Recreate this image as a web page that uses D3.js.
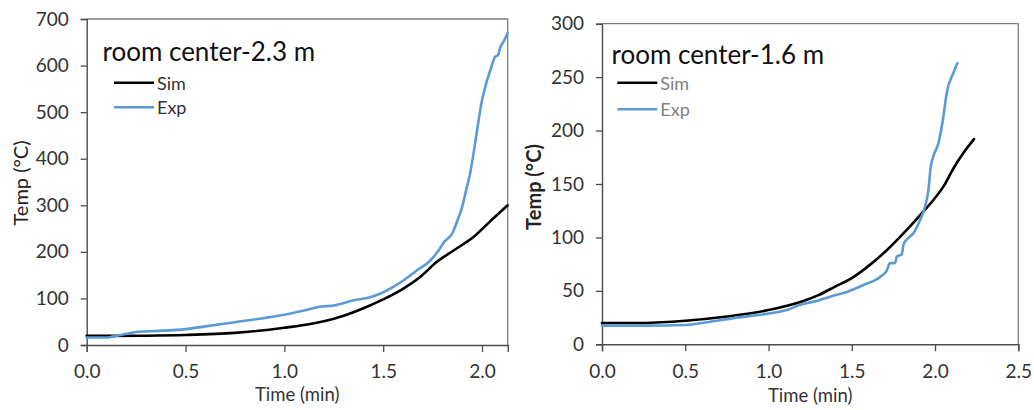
<!DOCTYPE html>
<html>
<head>
<meta charset="utf-8">
<script src="https://cdn.jsdelivr.net/npm/d3@7"></script>
<style>
  html, body { margin: 0; padding: 0; background: #fff; }
  svg { display: block; font-family: Lato, "Open Sans", sans-serif; }
</style>
</head>
<body>
<svg id="chart" width="1034" height="410"></svg>
<script>
// Temperature histories at the room centre, simulation vs. experiment.

// Panel 1: room center, 2.3 m
const leftSimTime = [0, 0.12, 0.3, 0.5, 0.75, 1.0, 1.1, 1.2, 1.3, 1.4, 1.5, 1.59, 1.69, 1.77, 1.86, 1.96, 2.04, 2.13];
const leftSimTemp = [20, 19.5, 20, 21.5, 26, 37, 43, 51, 63, 79, 98, 118, 147, 178, 204, 233, 265, 300];
const leftExpTime = [0, 0.1, 0.13, 0.2, 0.25, 0.35, 0.5, 0.6, 0.75, 0.9, 1.0, 1.1, 1.18, 1.25, 1.35, 1.43, 1.49, 1.54, 1.6, 1.67, 1.74, 1.78, 1.81, 1.85, 1.87, 1.9, 1.92, 1.94, 1.965, 1.983, 1.997, 2.017, 2.042, 2.067, 2.08, 2.093, 2.11, 2.13];
const leftExpTemp = [16, 16, 18, 24, 28, 30, 34, 40, 49, 58, 65, 74, 82, 85, 96, 102, 111, 122, 138, 160, 182, 203, 222, 240, 261, 297, 333, 369, 433, 483, 519, 555, 590, 619, 622, 640, 652, 670];
const leftXTicks = [0, 0.5, 1.0, 1.5, 2.0];
const leftYTicks = [0, 100, 200, 300, 400, 500, 600, 700];

// Panel 2: room center, 1.6 m
const rightSimTime = [0, 0.25, 0.5, 0.75, 1.0, 1.2, 1.3, 1.4, 1.5, 1.59, 1.71, 1.83, 1.92, 1.99, 2.05, 2.11, 2.17, 2.234];
const rightSimTemp = [20, 20, 22, 26, 32, 40, 46, 54, 62, 72, 88, 107, 122.5, 135, 147.5, 164.5, 179, 192];
const rightExpTime = [0, 0.25, 0.5, 0.6, 0.79, 0.99, 1.11, 1.19, 1.3, 1.37, 1.47, 1.57, 1.67, 1.71, 1.73, 1.76, 1.77, 1.8, 1.81, 1.83, 1.87, 1.91, 1.94, 1.96, 1.974, 1.99, 2.02, 2.05, 2.07, 2.11, 2.134];
const rightExpTemp = [17.5, 17.5, 18, 20, 24.5, 28.5, 32, 37, 41, 44.5, 49, 55.5, 63, 69, 76, 76, 82, 84, 93, 98, 104, 116, 129, 144, 166, 176, 188, 213, 235, 254, 263];
const rightXTicks = [0, 0.5, 1.0, 1.5, 2.0, 2.5];
const rightYTicks = [0, 50, 100, 150, 200, 250, 300];

const seriesNames = ["Sim", "Exp"];
const seriesColors = ["#000000", "#5b9bd5"];

const svg = d3.select("#chart");

function drawPanel(p) {
  const x = d3.scaleLinear().domain(p.xDomain).range([p.x0, p.x1]);
  const y = d3.scaleLinear().domain(p.yDomain).range([p.y1, p.y0]);
  const g = svg.append("g");

  // frame: top and right borders
  g.append("path")
    .attr("d", `M${p.x0},${p.y0}H${p.x1}V${p.y1}`)
    .attr("fill", "none").attr("stroke", "#7f7f7f").attr("stroke-width", 1.3);

  const fmt = d3.format(".1f");
  const xAxis = g.append("g").attr("transform", `translate(0,${p.y1})`)
    .call(d3.axisBottom(x).tickValues(p.xTicks).tickFormat(fmt).tickSizeOuter(0).tickSize(7).tickPadding(13));
  const yAxis = g.append("g").attr("transform", `translate(${p.x0},0)`)
    .call(d3.axisLeft(y).tickValues(p.yTicks).tickSizeOuter(0).tickSize(6).tickPadding(12));
  [xAxis, yAxis].forEach(a => {
    a.select(".domain").attr("stroke", "#4d4d4d").attr("stroke-width", 1.4);
    a.selectAll(".tick line").attr("stroke", "#4d4d4d").attr("stroke-width", 1.3);
    a.selectAll(".tick text").attr("fill", "#333").attr("font-size", 19).attr("font-family", "Lato, sans-serif");
  });

  const line = d3.line().x(d => x(d[0])).y(d => y(d[1])).curve(d3.curveMonotoneX);
  p.series.forEach((s, i) => {
    const pts = s.time.map((t, k) => [t, s.temp[k]]);
    g.append("path").datum(pts)
      .attr("d", line)
      .attr("fill", "none")
      .attr("stroke", seriesColors[i])
      .attr("stroke-width", 2.6)
      .attr("stroke-linejoin", "round")
      .attr("stroke-linecap", "round");
  });

  // title inside the plot
  g.append("text").attr("x", p.titleX).attr("y", p.titleY)
    .attr("font-size", 26).attr("fill", "#111").text(p.title);

  // legend
  seriesNames.forEach((n, i) => {
    const ly = p.legendY[i];
    g.append("line").attr("x1", p.legendX).attr("x2", p.legendX + 40)
      .attr("y1", ly).attr("y2", ly)
      .attr("stroke", seriesColors[i]).attr("stroke-width", 2.6);
    g.append("text").attr("x", p.legendX + 43).attr("y", ly + 7)
      .attr("font-size", 18).attr("fill", p.legendTextColor).text(n);
  });

  // axis titles
  g.append("text").attr("x", (p.x0 + p.x1) / 2).attr("y", p.xTitleY)
    .attr("text-anchor", "middle").attr("font-size", 18.5).attr("fill", "#333")
    .text("Time (min)");
  g.append("text")
    .attr("transform", `translate(${p.yTitleX},${p.yTitleCY}) rotate(-90)`)
    .attr("text-anchor", "middle").attr("font-size", 20)
    .attr("font-weight", p.yTitleWeight).attr("fill", "#222")
    .text("Temp (°C)");
}

drawPanel({
  x0: 86.7, x1: 507.7, y0: 19, y1: 345,
  xDomain: [0, 2.13], yDomain: [0, 700],
  xTicks: leftXTicks, yTicks: leftYTicks,
  series: [{ time: leftSimTime, temp: leftSimTemp }, { time: leftExpTime, temp: leftExpTemp }],
  title: "room center-2.3 m", titleX: 102.5, titleY: 61,
  legendX: 114, legendY: [82.7, 107.3], legendTextColor: "#333",
  xTitleY: 401, yTitleX: 28, yTitleCY: 183, yTitleWeight: "normal"
});

drawPanel({
  x0: 602, x1: 1018.3, y0: 23.7, y1: 344.3,
  xDomain: [0, 2.5], yDomain: [0, 300],
  xTicks: rightXTicks, yTicks: rightYTicks,
  series: [{ time: rightSimTime, temp: rightSimTemp }, { time: rightExpTime, temp: rightExpTemp }],
  title: "room center-1.6 m", titleX: 611.5, titleY: 64,
  legendX: 617.3, legendY: [82.7, 109.3], legendTextColor: "#7f7f7f",
  xTitleY: 402, yTitleX: 541, yTitleCY: 187, yTitleWeight: "bold"
});
</script>
</body>
</html>
